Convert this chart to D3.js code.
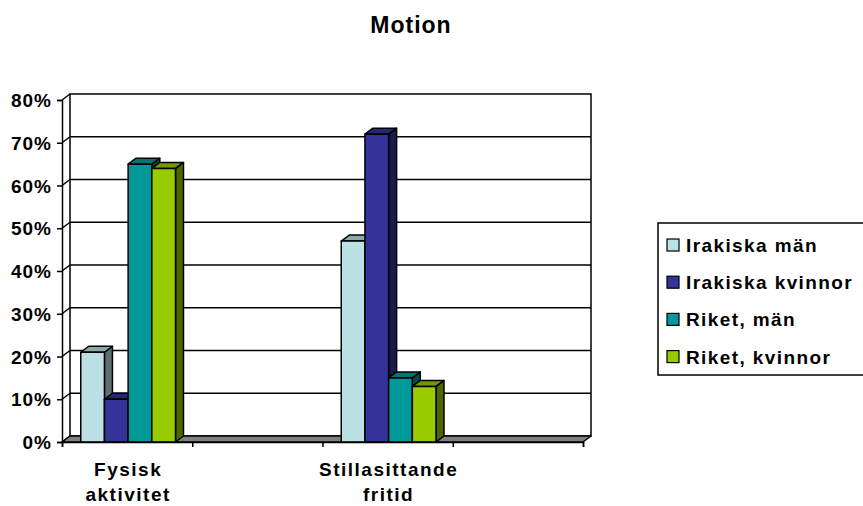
<!DOCTYPE html>
<html>
<head>
<meta charset="utf-8">
<script src="https://cdn.jsdelivr.net/npm/d3@7"></script>
<style>
  html, body { margin: 0; padding: 0; background: #fff; }
  svg { display: block; }
  text { font-family: "Liberation Sans", Arial, sans-serif; font-weight: bold; fill: #000; }
</style>
</head>
<body>
<svg id="chart" width="863" height="506"></svg>
<script>
// Categories (empty slots keep the extra axis divisions)
const categories = ["Fysisk aktivitet", "", "Stillasittande fritid", ""];
const categoryLines = [["Fysisk", "aktivitet"], [], ["Stillasittande", "fritid"], []];

const seriesNames = ["Irakiska män", "Irakiska kvinnor", "Riket, män", "Riket, kvinnor"];
const irakiskaMan     = [21, null, 47, null];
const irakiskaKvinnor = [10, null, 72, null];
const riketMan        = [65, null, 15, null];
const riketKvinnor    = [64, null, 13, null];
const seriesValues = [irakiskaMan, irakiskaKvinnor, riketMan, riketKvinnor];

const yTicks = [0, 10, 20, 30, 40, 50, 60, 70, 80];

// Face colours: front, top, side
const palette = [
  { front: "#BCE0E3", top: "#8DA8AA", side: "#5E7072" },
  { front: "#333399", top: "#262673", side: "#1A1A4D" },
  { front: "#009999", top: "#007373", side: "#004D4D" },
  { front: "#99CC00", top: "#739900", side: "#4D6600" }
];

const svg = d3.select("#chart");

// Front plane of the plot and depth offset
const plotLeft = 62, plotRight = 583, plotBottom = 442, plotTop = 100;
const dx = 8, dy = -6;

const x = d3.scaleBand().domain(d3.range(categories.length)).range([plotLeft, plotRight]).paddingInner(0).paddingOuter(0);
const y = d3.scaleLinear().domain([0, 80]).range([plotBottom, plotTop]);

const gapRatio = 1.5; // gap width as a fraction of one bar
const barW = x.bandwidth() / (seriesNames.length + gapRatio);
const xs = d3.scaleBand().domain(d3.range(seriesNames.length))
  .range([0, barW * seriesNames.length]);

const line = (x1, y1, x2, y2, w = 1.5) =>
  svg.append("line").attr("x1", x1).attr("y1", y1).attr("x2", x2).attr("y2", y2)
     .attr("stroke", "#000").attr("stroke-width", w);

// Back wall
svg.append("rect")
  .attr("x", plotLeft + dx).attr("y", plotTop + dy)
  .attr("width", plotRight - plotLeft).attr("height", plotBottom - plotTop)
  .attr("fill", "#fff").attr("stroke", "#000").attr("stroke-width", 1.5);

// Gridlines on back wall and side wall
yTicks.forEach(v => {
  if (v > 0 && v < 80) line(plotLeft + dx, y(v) + dy, plotRight + dx, y(v) + dy);
  line(plotLeft, y(v), plotLeft + dx, y(v) + dy);
});

// Floor
svg.append("path")
  .attr("d", `M${plotLeft},${plotBottom} L${plotRight},${plotBottom} L${plotRight + dx},${plotBottom + dy} L${plotLeft + dx},${plotBottom + dy} Z`)
  .attr("fill", "#808080").attr("stroke", "#000").attr("stroke-width", 1.5)
  .attr("stroke-linejoin", "round");

// Bars
const groupOffset = (x.bandwidth() - barW * seriesNames.length) / 2 + 1;
categories.forEach((c, ci) => {
  seriesValues.forEach((vals, si) => {
    const v = vals[ci];
    if (v == null) return;
    const x0 = x(ci) + groupOffset + xs(si);
    const x1 = x0 + barW;
    const y0 = y(v);
    const col = palette[si];
    const g = svg.append("g").attr("stroke", "#000").attr("stroke-width", 1.5).attr("stroke-linejoin", "round");
    g.append("path")
      .attr("d", `M${x1},${plotBottom} L${x1 + dx},${plotBottom + dy} L${x1 + dx},${y0 + dy} L${x1},${y0} Z`)
      .attr("fill", col.side);
    g.append("path")
      .attr("d", `M${x0},${y0} L${x0 + dx},${y0 + dy} L${x1 + dx},${y0 + dy} L${x1},${y0} Z`)
      .attr("fill", col.top);
    g.append("rect")
      .attr("x", x0).attr("y", y0).attr("width", barW).attr("height", plotBottom - y0)
      .attr("fill", col.front);
  });
});

// Y axis (front edge)
const yAxis = d3.axisLeft(y).tickValues(yTicks).tickSize(5).tickPadding(5)
  .tickFormat(d => d + "%");
const ya = svg.append("g").attr("transform", `translate(${plotLeft},0)`).call(yAxis);
ya.select(".domain").attr("stroke", "#000").attr("stroke-width", 1.5);
ya.selectAll(".tick line").attr("stroke", "#000").attr("stroke-width", 1.5);
ya.selectAll(".tick text")
  .style("font-family", '"Liberation Sans", Arial, sans-serif')
  .style("font-weight", "bold").style("font-size", "19px")
  .attr("letter-spacing", "1px").attr("fill", "#000").attr("dy", "0.35em");

// X axis (front floor edge) with ticks at category boundaries
const xb = d3.scaleLinear().domain([0, categories.length]).range([plotLeft, plotRight]);
const xAxis = d3.axisBottom(xb).tickValues(d3.range(categories.length + 1)).tickSize(5).tickFormat("");
const xa = svg.append("g").attr("transform", `translate(0,${plotBottom})`).call(xAxis);
xa.select(".domain").attr("stroke", "#000").attr("stroke-width", 1.5);
xa.selectAll(".tick line").attr("stroke", "#000").attr("stroke-width", 1.5);

// Category labels
categoryLines.forEach((lines, ci) => {
  lines.forEach((t, li) => {
    svg.append("text")
      .attr("x", x(ci) + x.bandwidth() / 2 + 1)
      .attr("y", 476 + li * 25)
      .attr("text-anchor", "middle")
      .attr("letter-spacing", "1.5px")
      .style("font-size", "19px")
      .text(t);
  });
});

// Title
svg.append("text")
  .attr("x", 411).attr("y", 33)
  .attr("text-anchor", "middle")
  .style("font-size", "23px")
  .attr("letter-spacing", "1px")
  .text("Motion");

// Legend
const lg = svg.append("g");
lg.append("rect").attr("x", 658).attr("y", 223).attr("width", 215).attr("height", 152)
  .attr("fill", "#fff").attr("stroke", "#000").attr("stroke-width", 1.5);
seriesNames.forEach((name, i) => {
  const cy = 245 + i * 37.2;
  lg.append("rect").attr("x", 667).attr("y", cy - 6).attr("width", 12).attr("height", 12)
    .attr("fill", palette[i].front).attr("stroke", "#000").attr("stroke-width", 1.2);
  lg.append("text").attr("x", 686).attr("y", cy + 7)
    .style("font-size", "19px").attr("letter-spacing", "1.4px")
    .text(name);
});
</script>
</body>
</html>
